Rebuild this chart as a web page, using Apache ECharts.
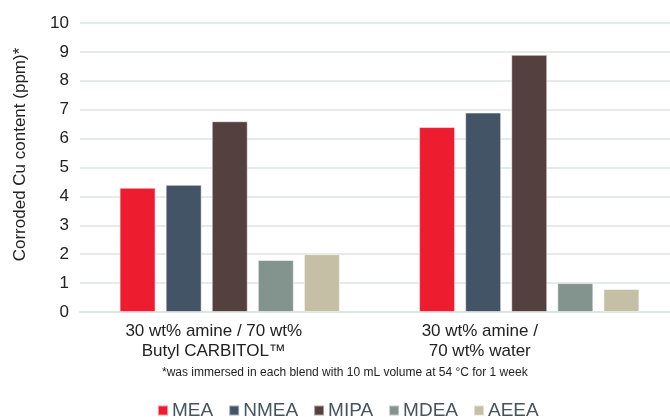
<!DOCTYPE html>
<html>
<head>
<meta charset="utf-8">
<script src="https://cdn.jsdelivr.net/npm/echarts@6/dist/echarts.min.js"></script>
<style>
  html, body { margin: 0; padding: 0; background: #fff; }
  #chart { width: 670px; height: 417px; }
</style>
</head>
<body>
<div id="chart"></div>
<script>
// Blend categories (x axis) and copper corrosion per amine (ppm)
const categories = ['30 wt% amine / 70 wt%\nButyl CARBITOL™', '30 wt% amine /\n70 wt% water'];
const amines = ['MEA', 'NMEA', 'MIPA', 'MDEA', 'AEEA'];
const MEA  = [4.3, 6.4];
const NMEA = [4.4, 6.9];
const MIPA = [6.6, 8.9];
const MDEA = [1.8, 1.0];
const AEEA = [2.0, 0.8];
const yTicks = [0, 1, 2, 3, 4, 5, 6, 7, 8, 9, 10];
const footnote = '*was immersed in each blend with 10 mL volume at 54 °C for 1 week';

const seriesValues = [MEA, NMEA, MIPA, MDEA, AEEA];
const colors = ['#ee1c2f', '#425466', '#54413f', '#83948e', '#c4bfa5'];
const labelShift = [32, 99];

const font = '"Liberation Sans", Arial, Helvetica, sans-serif';
const chart = echarts.init(document.getElementById('chart'), null, { renderer: 'canvas' });

chart.setOption({
  animation: false,
  textStyle: { fontFamily: font },
  grid: { left: 80, width: 599, top: 23, bottom: 105, containLabel: false, outerBoundsMode: 'none' },
  legend: {
    data: amines,
    left: 152,
    top: 396,
    icon: 'rect',
    itemWidth: 10,
    itemHeight: 10,
    itemGap: 15,
    textStyle: { fontSize: 19, color: '#46545c', fontFamily: font, padding: [0, 0, 0, -1] }
  },
  xAxis: {
    type: 'category',
    data: categories,
    axisLine: { show: true, lineStyle: { color: '#dde4e2', width: 2 } },
    axisTick: { show: false },
    axisLabel: {
      margin: 9,
      interval: 0,
      color: '#222',
      fontSize: 17,
      lineHeight: 20,
      formatter: function (value, idx) {
        return value.split('\n').map(function (l) { return '{c' + idx + '|' + l + '}'; }).join('\n');
      },
      rich: {
        c0: { fontSize: 17, lineHeight: 20, color: '#222', padding: [0, labelShift[0], 0, 0] },
        c1: { fontSize: 17, lineHeight: 20, color: '#222', padding: [0, labelShift[1], 0, 0] }
      }
    }
  },
  yAxis: {
    type: 'value',
    min: yTicks[0],
    max: yTicks[yTicks.length - 1],
    interval: 1,
    name: 'Corroded Cu content (ppm)*',
    nameLocation: 'middle',
    nameGap: 51,
    nameTextStyle: { fontSize: 17, color: '#222', padding: [0, 0, 0, 26] },
    axisLine: { show: false },
    axisTick: { show: false },
    axisLabel: { color: '#222', fontSize: 17, margin: 11 },
    splitLine: { lineStyle: { color: '#dde4e2', width: 1.5 } }
  },
  graphic: [{
    type: 'text',
    left: 344 - 182,
    top: 367,
    style: { text: footnote, fontSize: 12, fill: '#222', fontFamily: font }
  }],
  series: amines.map(function (name, i) {
    return {
      name: name,
      type: 'bar',
      data: seriesValues[i],
      barWidth: 36,
      barGap: '28%',
      itemStyle: { color: colors[i], borderColor: 'rgba(255,255,255,0.5)', borderWidth: 1 }
    };
  })
});
</script>
</body>
</html>
